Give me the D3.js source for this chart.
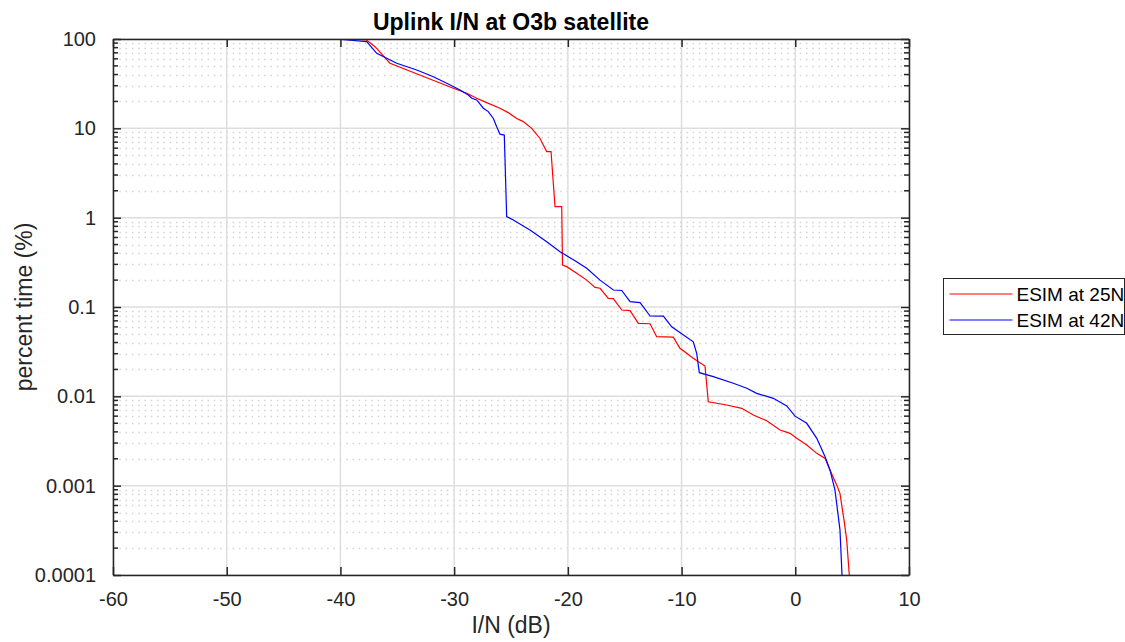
<!DOCTYPE html>
<html>
<head>
<meta charset="utf-8">
<script src="https://cdn.jsdelivr.net/npm/d3@7"></script>
<style>
    body { margin: 0; background: #fff; }
    #chart { width: 1125px; height: 642px; }
    text { font-family: "Liberation Sans", Arial, sans-serif; fill: #262626; }
</style>
</head>
<body>
<div id="chart"></div>
<script>

var chartTitle = 'Uplink I/N at O3b satellite';
var xLabel = 'I/N (dB)';
var yLabel = 'percent time (%)';

var seriesNames = ['ESIM at 25N', 'ESIM at 42N'];
var seriesColors = ['#ff0000', '#0000ff'];

var xTicks = [-60, -50, -40, -30, -20, -10, 0, 10];
var xTickLabels = ['-60', '-50', '-40', '-30', '-20', '-10', '0', '10'];
var yTicks = [0.0001, 0.001, 0.01, 0.1, 1, 10, 100];
var yTickLabels = ['0.0001', '0.001', '0.01', '0.1', '1', '10', '100'];

// ESIM at 25N
var esim25Db = [-39.0, -37.7, -36.96, -35.64, -30.07, -28.89, -28.02, -27.14, -25.97, -25.24,
    -24.5, -23.92, -23.18, -22.45, -21.86, -21.48, -21.13, -20.54, -20.47, -20.1,
    -19.22, -18.34, -17.61, -17.17, -16.44, -16.0, -15.26, -14.53, -13.8, -12.77,
    -12.19, -10.73, -10.14, -8.97, -7.94, -7.65, -6.03, -4.71, -3.69, -2.51,
    -1.34, -0.46, 0.13, 1.01, 1.89, 2.62, 3.05, 3.64, 3.93, 4.31,
    4.52, 4.75];
var esim25Pct = [100, 97.5, 82, 53.5, 28.1, 24.7, 21.7, 19.4, 16.8, 15.0,
    12.9, 11.9, 10, 7.7, 5.5, 5.5, 1.33, 1.33, 0.295, 0.283,
    0.238, 0.2, 0.166, 0.162, 0.125, 0.124, 0.0925, 0.091, 0.0657, 0.065,
    0.0465, 0.046, 0.0345, 0.0267, 0.0218, 0.0087, 0.008, 0.00734, 0.00618, 0.00533,
    0.0042, 0.00385, 0.00339, 0.00285, 0.0023, 0.00202, 0.0015, 0.00102, 0.00082, 0.00039,
    0.000247, 0.0001];

// ESIM at 42N
var esim42Db = [-40.4, -37.69, -36.81, -35.93, -35.05, -33.29, -31.83, -30.65, -29.48, -28.75,
    -28.45, -28.02, -27.43, -27.0, -26.55, -26.26, -25.97, -25.59, -25.38, -24.8,
    -23.33, -21.86, -20.69, -19.96, -19.37, -18.34, -17.17, -16.0, -15.26, -14.53,
    -13.65, -12.77, -11.6, -10.87, -8.97, -8.67, -8.44, -7.21, -5.45, -4.27,
    -3.39, -1.93, -0.75, -0.02, 1.01, 1.89, 2.62, 3.05, 3.49, 3.93,
    4.11];
var esim42Pct = [100, 93.3, 69.2, 60.8, 53.5, 45.0, 37.8, 31.9, 26.9, 23.6,
    21.7, 20.8, 16.8, 15.4, 12.9, 10.4, 8.6, 8.4, 1.03, 0.94,
    0.728, 0.538, 0.416, 0.366, 0.33, 0.271, 0.2, 0.155, 0.153, 0.115,
    0.112, 0.0793, 0.079, 0.0601, 0.0408, 0.0303, 0.0184, 0.0166, 0.014, 0.0123,
    0.0108, 0.0095, 0.0078, 0.006, 0.00499, 0.00339, 0.00211, 0.0015, 0.00089, 0.00032,
    0.0001];


class CcdfChart {

    constructor() {

        this._series = [
            { name: seriesNames[0], color: seriesColors[0], values: d3.zip(esim25Db, esim25Pct) },
            { name: seriesNames[1], color: seriesColors[1], values: d3.zip(esim42Db, esim42Pct) }
        ];

        this._margin = {
            left: 113,
            top: 39,
            right: 216,
            bottom: 67
        };

        this._width = 1125;
        this._height = 642;
        this._axisColor = '#262626';
        this._gridColor = '#dedede';
    }


    renderTo(selector) {

        var innerW = this._width - this._margin.left - this._margin.right;
        var innerH = this._height - this._margin.top - this._margin.bottom;

        var x = d3.scaleLinear().domain([-60, 10]).range([0, innerW]);
        var y = d3.scaleLog().domain([0.0001, 100]).range([innerH, 0]);

        var svg = d3.select(selector)
            .append('svg')
            .attr('width', this._width)
            .attr('height', this._height);

        svg.append('defs')
            .append('clipPath')
            .attr('id', 'plot-clip')
            .append('rect')
            .attr('width', innerW)
            .attr('height', innerH);

        var canvas = svg.append('g')
            .attr('transform', 'translate(' + [this._margin.left, this._margin.top] + ')');

        // minor grid (dotted) for every log step
        var minorVals = [];
        yTicks.slice(0, -1).forEach(function(v) {
            for (var k = 2; k <= 9; k++) minorVals.push(v * k);
        });

        canvas.append('g')
            .selectAll('line')
            .data(minorVals)
            .enter()
            .append('line')
            .attr('x1', 0)
            .attr('x2', innerW)
            .attr('y1', d => Math.round(y(d)) + 0.5)
            .attr('y2', d => Math.round(y(d)) + 0.5)
            .style('stroke', '#d2d2d2')
            .style('stroke-width', 1.3)
            .style('stroke-dasharray', '1.5,4.8');

        // major grid
        canvas.append('g')
            .selectAll('line')
            .data(yTicks)
            .enter()
            .append('line')
            .attr('x1', 0)
            .attr('x2', innerW)
            .attr('y1', d => y(d))
            .attr('y2', d => y(d))
            .style('stroke', this._gridColor)
            .style('stroke-width', 1.5);

        canvas.append('g')
            .selectAll('line')
            .data(xTicks)
            .enter()
            .append('line')
            .attr('x1', d => x(d))
            .attr('x2', d => x(d))
            .attr('y1', 0)
            .attr('y2', innerH)
            .style('stroke', this._gridColor)
            .style('stroke-width', 1.5);

        // curves
        var line = d3.line()
            .x(d => x(d[0]))
            .y(d => y(d[1]));

        canvas.append('g')
            .attr('clip-path', 'url(#plot-clip)')
            .selectAll('path')
            .data(this._series)
            .enter()
            .append('path')
            .attr('d', d => line(d.values))
            .style('fill', 'none')
            .style('stroke', d => d.color)
            .style('stroke-width', 1.2);

        // axes: inward ticks on all four sides
        var self = this;
        var styleAxis = function(g) {
            g.select('.domain').style('stroke', self._axisColor).style('stroke-width', 1.5);
            g.selectAll('.tick line').style('stroke', self._axisColor).style('stroke-width', 1.5);
            g.selectAll('.tick text')
                .style('font-size', '20px')
                .style('fill', self._axisColor);
        };

        canvas.append('g')
            .attr('transform', 'translate(0,' + innerH + ')')
            .call(d3.axisBottom(x).tickValues(xTicks).tickSizeInner(-8).tickSizeOuter(0).tickPadding(17)
                .tickFormat((d, i) => xTickLabels[i]))
            .call(styleAxis);

        canvas.append('g')
            .call(d3.axisTop(x).tickValues(xTicks).tickSizeInner(-8).tickSizeOuter(0).tickFormat(''))
            .call(styleAxis);

        canvas.append('g')
            .call(d3.axisLeft(y).tickValues(yTicks).tickSizeInner(-8).tickSizeOuter(0).tickPadding(17)
                .tickFormat((d, i) => yTickLabels[i]))
            .call(styleAxis);

        canvas.append('g')
            .attr('transform', 'translate(' + innerW + ',0)')
            .call(d3.axisRight(y).tickValues(yTicks).tickSizeInner(-8).tickSizeOuter(0).tickFormat(''))
            .call(styleAxis);

        // minor ticks left and right
        [0, innerW].forEach(function(xPos) {
            var dir = xPos == 0 ? 1 : -1;
            canvas.append('g')
                .selectAll('line')
                .data(minorVals)
                .enter()
                .append('line')
                .attr('x1', xPos)
                .attr('x2', xPos + dir * 5)
                .attr('y1', d => y(d))
                .attr('y2', d => y(d))
                .style('stroke', self._axisColor)
                .style('stroke-width', 1.5);
        });

        // titles
        svg.append('text')
            .attr('x', this._margin.left + innerW / 2)
            .attr('y', 30)
            .attr('text-anchor', 'middle')
            .style('font-size', '23px')
            .style('font-weight', 'bold')
            .style('fill', '#000')
            .text(chartTitle);

        svg.append('text')
            .attr('x', this._margin.left + innerW / 2)
            .attr('y', 633)
            .attr('text-anchor', 'middle')
            .style('font-size', '23px')
            .text(xLabel);

        svg.append('text')
            .attr('transform', 'translate(' + [32, this._margin.top + innerH / 2] + ') rotate(-90)')
            .attr('text-anchor', 'middle')
            .style('font-size', '23px')
            .text(yLabel);

        this._renderLegend(svg);

        return this;
    }


    _renderLegend(svg) {

        var legend = svg.append('g')
            .attr('transform', 'translate(943.5,278.5)');

        legend.append('rect')
            .attr('width', 181)
            .attr('height', 56)
            .style('fill', '#fff')
            .style('stroke', '#262626')
            .style('stroke-width', 1);

        var rows = legend.selectAll('g.row')
            .data(this._series)
            .enter()
            .append('g')
            .attr('class', 'row')
            .attr('transform', (d, i) => 'translate(0,' + (15.5 + i * 26) + ')');

        rows.append('line')
            .attr('x1', 6)
            .attr('x2', 69)
            .style('stroke', d => d.color)
            .style('stroke-width', 1.2);

        rows.append('text')
            .attr('x', 73)
            .attr('y', 7)
            .style('font-size', '19px')
            .style('fill', '#000')
            .text(d => d.name);
    }
}

new CcdfChart().renderTo('#chart');

</script>
</body>
</html>
